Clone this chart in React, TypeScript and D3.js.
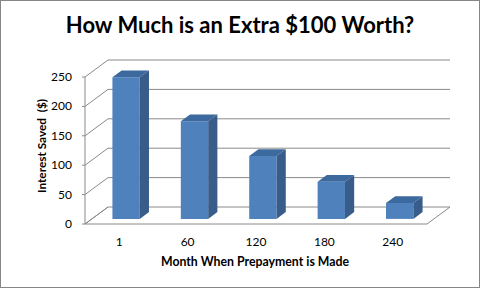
import React from "react";
import * as d3 from "d3";

const categories = ["1", "60", "120", "180", "240"];
const values = [241, 166, 107, 63, 27];
const yTicks = [0, 50, 100, 150, 200, 250];

const W = 481;
const H = 289;
const FONT = "Lato, 'Open Sans', sans-serif";

// oblique projection depth offsets
const DX = 23;
const DY = -17;
const proj = (x: number, y: number, z: number): [number, number] => [x + DX * z, y + DY * z];
const pts = (arr: [number, number][]) => arr.map((p) => p.join(",")).join(" ");

export default function App() {
  const x = d3.scaleBand<string>().domain(categories).range([85, 427]).paddingInner(0).paddingOuter(0);
  const y = d3.scaleLinear().domain([0, 250]).range([224, 77]);
  const grid = "#8a8a8a";
  const barW = x.bandwidth() * 0.4;
  const z0 = 0.3;
  const z1 = 0.7;

  return (
    <svg width={W} height={H} style={{ position: "absolute", left: 0, top: 0 }}>
      <rect x={0.5} y={0.5} width={479} height={287} fill="#fff" stroke="#868686" />
      <text x={240} y={33} textAnchor="middle" fontFamily={FONT} fontWeight="bold" fontSize={22} fill="#000">
        How Much is an Extra $100 Worth?
      </text>
      {/* back wall gridlines + side wall diagonals */}
      {yTicks.map((t) => {
        const [bx0, by] = proj(85, y(t), 1);
        const [bx1] = proj(427, y(t), 1);
        return (
          <g key={t}>
            {t !== 0 && <line x1={bx0} y1={by} x2={bx1} y2={by} stroke={grid} strokeWidth={1} />}
            <line x1={85} y1={y(t)} x2={bx0} y2={by} stroke={grid} strokeWidth={1} />
            <line x1={82} y1={y(t)} x2={85} y2={y(t)} stroke={grid} strokeWidth={1} />
            <text x={72} y={y(t) + 4} textAnchor="end" fontFamily={FONT} fontSize={12} fill="#000">
              {t}
            </text>
          </g>
        );
      })}
      {/* floor */}
      <polygon
        points={pts([proj(85, y(0), 0), proj(427, y(0), 0), proj(427, y(0), 1), proj(85, y(0), 1)])}
        fill="none"
        stroke={grid}
        strokeWidth={1}
      />
      <line x1={85} y1={y(250)} x2={85} y2={y(0)} stroke={grid} strokeWidth={1} />
      {/* bars */}
      {categories.map((c, i) => {
        const cx = (x(c) as number) + x.bandwidth() / 2;
        const l = cx - barW / 2;
        const r = cx + barW / 2;
        const top = y(values[i]);
        const base = y(0);
        const front = pts([proj(l, top, z0), proj(r, top, z0), proj(r, base, z0), proj(l, base, z0)]);
        const topF = pts([proj(l, top, z0), proj(r, top, z0), proj(r, top, z1), proj(l, top, z1)]);
        const side = pts([proj(r, top, z0), proj(r, top, z1), proj(r, base, z1), proj(r, base, z0)]);
        return (
          <g key={c}>
            <polygon points={front} fill="#4F81BD" />
            <polygon points={topF} fill="#3D6A9E" />
            <polygon points={side} fill="#385D8A" />
          </g>
        );
      })}
      {categories.map((c) => (
        <text
          key={c}
          x={(x(c) as number) + x.bandwidth() / 2}
          y={246}
          textAnchor="middle"
          fontFamily={FONT}
          fontSize={12}
          fill="#000"
        >
          {c}
        </text>
      ))}
      <text x={255} y={266} textAnchor="middle" fontFamily={FONT} fontWeight="bold" fontSize={12.3} fill="#000">
        Month When Prepayment is Made
      </text>
      <text
        transform="translate(46,146) rotate(-90)"
        textAnchor="middle"
        fontFamily={FONT}
        fontWeight="bold"
        fontSize={11.8}
        fill="#000"
        style={{ whiteSpace: "pre" }}
      >
        Interest Saved  ($)
      </text>
    </svg>
  );
}
